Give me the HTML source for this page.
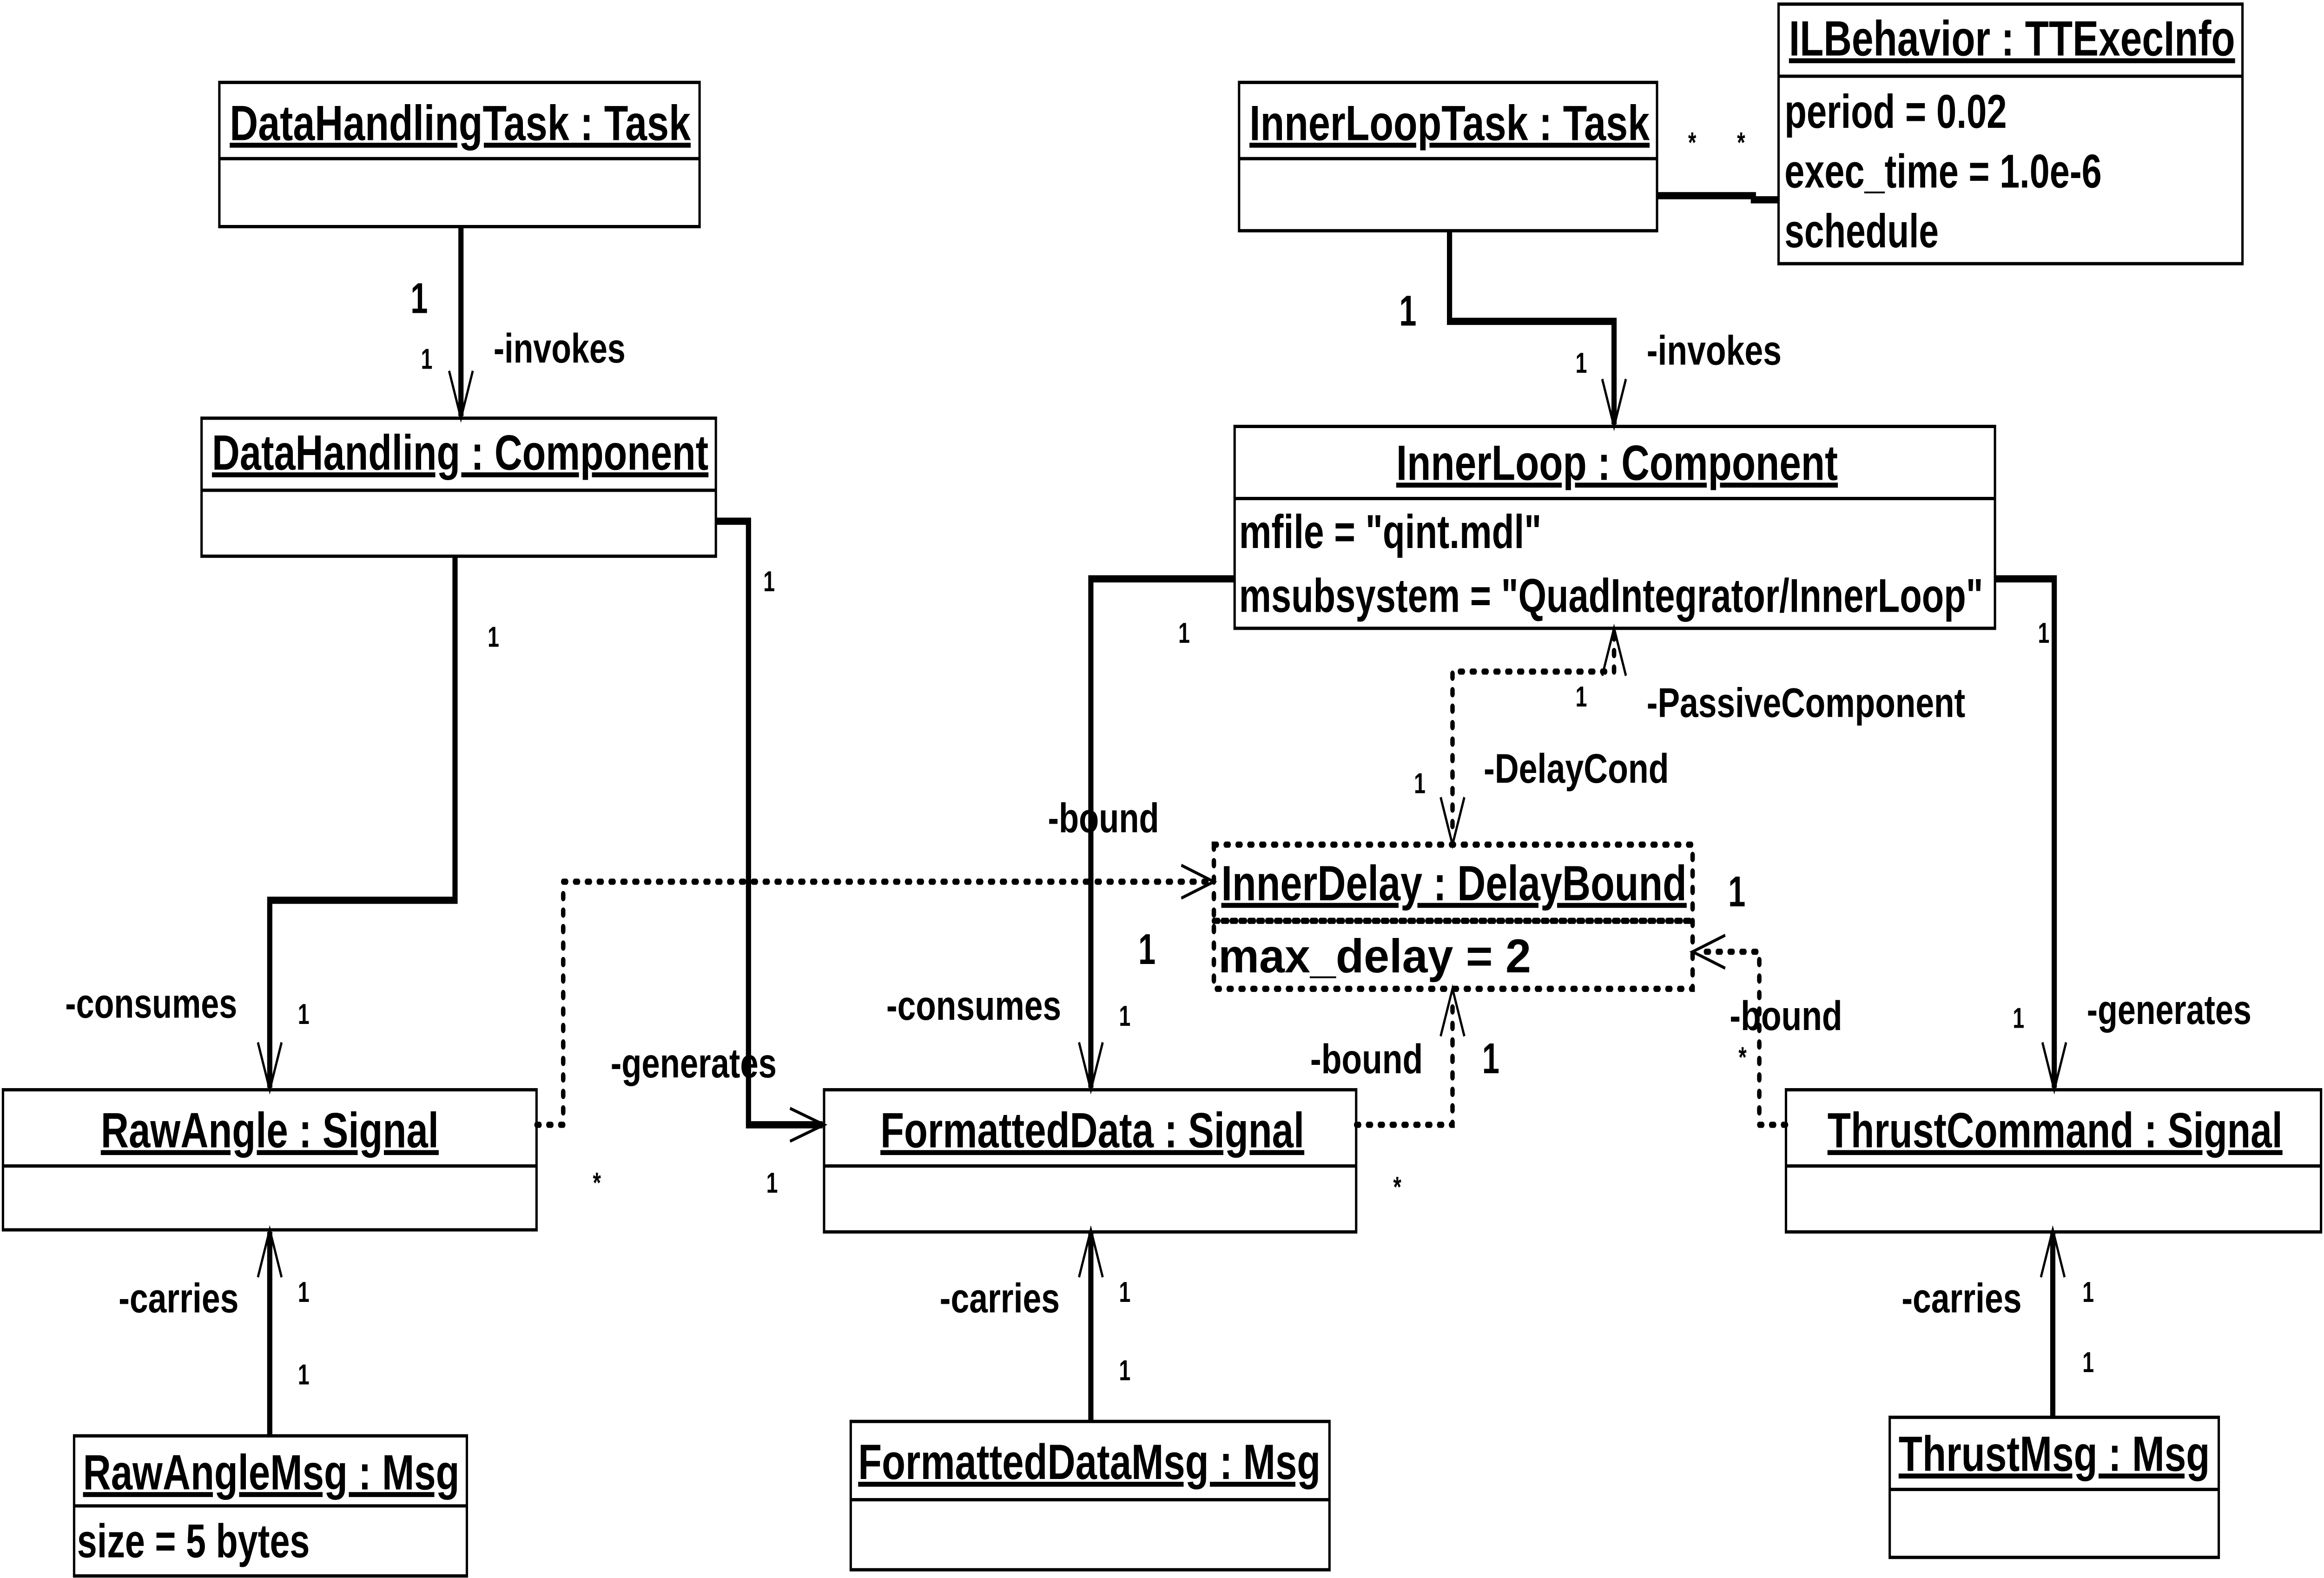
<!DOCTYPE html>
<html><head><meta charset="utf-8"><style>
html,body{margin:0;padding:0;background:#fff;width:100%;height:100%;overflow:hidden;}
svg{display:block;width:100vw;height:100vh;}
text{font-family:"Liberation Sans",sans-serif;font-weight:bold;fill:#000;}
.t{font-size:24px;text-decoration:underline;}
.a{font-size:23px;}
.l{font-size:20px;}
.s{font-size:14px;}
.b{font-size:21px;}
.box{fill:#fff;stroke:#000;stroke-width:1.6;}
.thick{fill:none;stroke:#000;stroke-width:3.5;}
.dash{fill:none;stroke:#000;stroke-width:3;stroke-dasharray:2 6;stroke-linecap:round;}
.ah{fill:none;stroke:#000;stroke-width:1.5;}
</style></head><body>
<svg viewBox="0 0 1568 766" preserveAspectRatio="none" xmlns="http://www.w3.org/2000/svg">
<rect width="1568" height="766" fill="#fff"/>

<rect class="box" x="148" y="40" width="324" height="70"/><line class="box" x1="148" y1="77" x2="472" y2="77"/>
<text class="t" x="155" y="68" textLength="311" lengthAdjust="spacingAndGlyphs">DataHandlingTask : Task</text>

<rect class="box" x="136" y="203" width="347" height="67"/><line class="box" x1="136" y1="238" x2="483" y2="238"/>
<text class="t" x="143" y="228" textLength="335" lengthAdjust="spacingAndGlyphs">DataHandling : Component</text>

<rect class="box" x="836" y="40" width="282" height="72"/><line class="box" x1="836" y1="77" x2="1118" y2="77"/>
<text class="t" x="843" y="68" textLength="270" lengthAdjust="spacingAndGlyphs">InnerLoopTask : Task</text>

<rect class="box" x="1200" y="2" width="313" height="126"/><line class="box" x1="1200" y1="37" x2="1513" y2="37"/>
<text class="t" x="1207" y="27" textLength="301" lengthAdjust="spacingAndGlyphs">ILBehavior : TTExecInfo</text>
<text class="a" x="1204" y="62" textLength="150" lengthAdjust="spacingAndGlyphs">period = 0.02</text>
<text class="a" x="1204" y="91" textLength="214" lengthAdjust="spacingAndGlyphs">exec_time = 1.0e-6</text>
<text class="a" x="1204" y="120" textLength="104" lengthAdjust="spacingAndGlyphs">schedule</text>

<rect class="box" x="833" y="207" width="513" height="98"/><line class="box" x1="833" y1="242" x2="1346" y2="242"/>
<text class="t" x="942" y="233" textLength="298" lengthAdjust="spacingAndGlyphs">InnerLoop : Component</text>
<text class="a" x="836" y="266" textLength="204" lengthAdjust="spacingAndGlyphs">mfile = "qint.mdl"</text>
<text class="a" x="836" y="297" textLength="502" lengthAdjust="spacingAndGlyphs">msubsystem = "QuadIntegrator/InnerLoop"</text>

<rect x="819" y="410" width="323" height="70" fill="#fff"/>
<rect class="dash" x="819" y="410" width="323" height="70"/>
<line class="dash" x1="819" y1="447" x2="1142" y2="447" style="stroke-dasharray:3 3"/>
<text class="t" x="824" y="437" textLength="314" lengthAdjust="spacingAndGlyphs">InnerDelay : DelayBound</text>
<text class="a" x="822" y="472" textLength="211" lengthAdjust="spacingAndGlyphs">max_delay = 2</text>

<rect class="box" x="2" y="529" width="360" height="68"/><line class="box" x1="2" y1="566" x2="362" y2="566"/>
<text class="t" x="68" y="557" textLength="228" lengthAdjust="spacingAndGlyphs">RawAngle : Signal</text>

<rect class="box" x="556" y="529" width="359" height="69"/><line class="box" x1="556" y1="566" x2="915" y2="566"/>
<text class="t" x="594" y="557" textLength="286" lengthAdjust="spacingAndGlyphs">FormattedData : Signal</text>

<rect class="box" x="1205" y="529" width="361" height="69"/><line class="box" x1="1205" y1="566" x2="1566" y2="566"/>
<text class="t" x="1233" y="557" textLength="307" lengthAdjust="spacingAndGlyphs">ThrustCommand : Signal</text>

<rect class="box" x="50" y="697" width="265" height="68"/><line class="box" x1="50" y1="731" x2="315" y2="731"/>
<text class="t" x="56" y="723" textLength="254" lengthAdjust="spacingAndGlyphs">RawAngleMsg : Msg</text>
<text class="a" x="52" y="756" textLength="157" lengthAdjust="spacingAndGlyphs">size = 5 bytes</text>

<rect class="box" x="574" y="690" width="323" height="72"/><line class="box" x1="574" y1="728" x2="897" y2="728"/>
<text class="t" x="579" y="718" textLength="312" lengthAdjust="spacingAndGlyphs">FormattedDataMsg : Msg</text>

<rect class="box" x="1275" y="688" width="222" height="68"/><line class="box" x1="1275" y1="723" x2="1497" y2="723"/>
<text class="t" x="1281" y="714" textLength="210" lengthAdjust="spacingAndGlyphs">ThrustMsg : Msg</text>

<polyline class="thick" points="311,110 311,202"/>
<polyline class="ah" points="303,180 311,203 319,180"/>
<polyline class="thick" points="978,112 978,156 1089,156 1089,206"/>
<polyline class="ah" points="1081,184 1089,207 1097,184"/>
<polyline class="thick" points="1118,95 1183,95 1183,97 1200,97"/>
<polyline class="thick" points="307,270 307,437 182,437 182,528"/>
<polyline class="ah" points="174,506 182,529 190,506"/>
<polyline class="thick" points="483,253 505,253 505,546 555,546"/>
<polyline class="ah" points="533,538 556,546 533,554"/>
<polyline class="thick" points="833,281 736,281 736,528"/>
<polyline class="ah" points="728,506 736,529 744,506"/>
<polyline class="thick" points="1346,281 1386,281 1386,528"/>
<polyline class="ah" points="1378,506 1386,529 1394,506"/>
<polyline class="thick" points="182,697 182,598"/>
<polyline class="ah" points="174,620 182,597 190,620"/>
<polyline class="thick" points="736,690 736,598"/>
<polyline class="ah" points="728,620 736,597 744,620"/>
<polyline class="thick" points="1385,688 1385,598"/>
<polyline class="ah" points="1377,620 1385,597 1393,620"/>

<polyline class="dash" points="362,546 380,546 380,428 816,428"/>
<polyline class="ah" points="797,420 819,428 797,436"/>
<polyline class="dash" points="915,546 980,546 980,483"/>
<polyline class="ah" points="972,503 980,480 988,503"/>
<polyline class="dash" points="1205,546 1187,546 1187,462 1145,462"/>
<polyline class="ah" points="1164,454 1142,462 1164,470"/>
<polyline class="dash" points="1089,308 1089,326 1085,326 980,326 980,407"/>
<polyline class="ah" points="1081,328 1089,305 1097,328"/>
<polyline class="ah" points="972,387 980,410 988,387"/>

<text class="b" x="277" y="152">1</text>
<text class="s" x="284" y="179">1</text>
<text class="l" x="333" y="176" textLength="89" lengthAdjust="spacingAndGlyphs">-invokes</text>
<text class="b" x="944" y="158">1</text>
<text class="s" x="1063" y="181">1</text>
<text class="l" x="1111" y="177" textLength="91" lengthAdjust="spacingAndGlyphs">-invokes</text>
<text class="s" x="1139" y="74">*</text>
<text class="s" x="1172" y="74">*</text>
<text class="s" x="329" y="314">1</text>
<text class="s" x="201" y="497">1</text>
<text class="l" x="44" y="494" textLength="116" lengthAdjust="spacingAndGlyphs">-consumes</text>
<text class="s" x="515" y="287">1</text>
<text class="l" x="412" y="523" textLength="112" lengthAdjust="spacingAndGlyphs">-generates</text>
<text class="s" x="517" y="579">1</text>
<text class="s" x="400" y="579">*</text>
<text class="s" x="795" y="312">1</text>
<text class="l" x="707" y="404" textLength="75" lengthAdjust="spacingAndGlyphs">-bound</text>
<text class="b" x="768" y="468">1</text>
<text class="l" x="598" y="495" textLength="118" lengthAdjust="spacingAndGlyphs">-consumes</text>
<text class="s" x="755" y="498">1</text>
<text class="s" x="1375" y="312">1</text>
<text class="s" x="1358" y="499">1</text>
<text class="l" x="1408" y="497" textLength="111" lengthAdjust="spacingAndGlyphs">-generates</text>
<text class="l" x="884" y="521" textLength="76" lengthAdjust="spacingAndGlyphs">-bound</text>
<text class="b" x="1000" y="521">1</text>
<text class="s" x="940" y="581">*</text>
<text class="b" x="1166" y="440">1</text>
<text class="l" x="1167" y="500" textLength="76" lengthAdjust="spacingAndGlyphs">-bound</text>
<text class="s" x="1173" y="518">*</text>
<text class="l" x="1111" y="348" textLength="215" lengthAdjust="spacingAndGlyphs">-PassiveComponent</text>
<text class="s" x="1063" y="343">1</text>
<text class="l" x="1001" y="380" textLength="125" lengthAdjust="spacingAndGlyphs">-DelayCond</text>
<text class="s" x="954" y="385">1</text>
<text class="l" x="80" y="637" textLength="81" lengthAdjust="spacingAndGlyphs">-carries</text>
<text class="s" x="201" y="632">1</text>
<text class="s" x="201" y="672">1</text>
<text class="l" x="634" y="637" textLength="81" lengthAdjust="spacingAndGlyphs">-carries</text>
<text class="s" x="755" y="632">1</text>
<text class="s" x="755" y="670">1</text>
<text class="l" x="1283" y="637" textLength="81" lengthAdjust="spacingAndGlyphs">-carries</text>
<text class="s" x="1405" y="632">1</text>
<text class="s" x="1405" y="666">1</text>
</svg>
</body></html>
